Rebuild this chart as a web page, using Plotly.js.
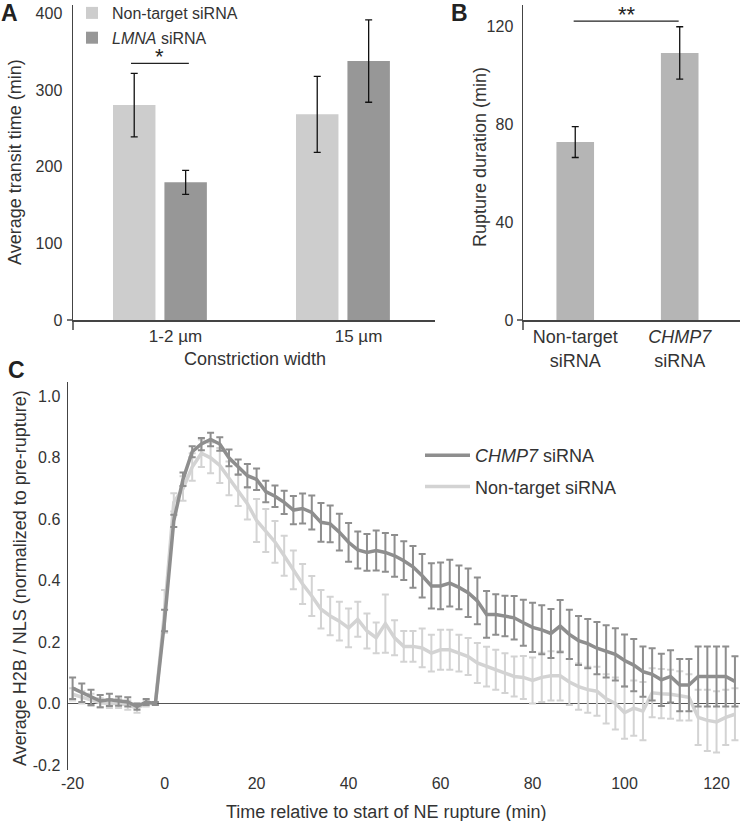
<!DOCTYPE html>
<html>
<head>
<meta charset="utf-8">
<script src="https://cdn.plot.ly/plotly-3.0.1.min.js"></script>
<style>
  html, body { margin: 0; padding: 0; background: #ffffff; }
  #chart { width: 740px; height: 821px; }
</style>
</head>
<body>
<div id="chart"></div>
<script>
// ---------- Panel A data ----------
const widthCategories = ['1-2 µm', '15 µm'];
const transitNonTarget = [280.4, 268.3];
const transitNonTargetErr = [41.5, 49.5];
const transitLMNA = [179.6, 337.8];
const transitLMNAErr = [15.7, 53.7];
const transitTicks = [0, 100, 200, 300, 400];

// ---------- Panel B data ----------
const ruptureCategories = ['Non-target<br>siRNA', '<i>CHMP7</i><br>siRNA'];
const ruptureDuration = [72.8, 109.3];
const ruptureDurationErr = [6.3, 10.7];
const ruptureTicks = [0, 40, 80, 120];

// ---------- Panel C data ----------
const timeMin = [-20, -18, -16, -14, -12, -10, -8, -6, -4, -2,
  0, 2, 4, 6, 8, 10, 12, 14, 16, 18, 20, 22, 24, 26, 28, 30, 32, 34, 36, 38,
  40, 42, 44, 46, 48, 50, 52, 54, 56, 58, 60, 62, 64, 66, 68, 70, 72, 74, 76, 78,
  80, 82, 84, 86, 88, 90, 92, 94, 96, 98, 100, 102, 104, 106, 108, 110, 112, 114, 116, 118,
  120, 122, 124];
const chmp7Mean = [0.05, 0.035, 0.02, 0.008, 0.012, 0.008, 0.005, -0.01, 0.005, 0.0,
  0.27, 0.595, 0.73, 0.82, 0.845, 0.86, 0.845, 0.80, 0.77, 0.742, 0.73, 0.69, 0.675, 0.655, 0.63, 0.635, 0.622, 0.59, 0.585, 0.558,
  0.525, 0.50, 0.492, 0.498, 0.492, 0.481, 0.465, 0.445, 0.416, 0.383, 0.383, 0.392, 0.378, 0.361, 0.334, 0.29, 0.29, 0.285, 0.279, 0.263,
  0.248, 0.24, 0.228, 0.252, 0.225, 0.205, 0.195, 0.18, 0.17, 0.16, 0.14, 0.125, 0.104, 0.095, 0.077, 0.088, 0.06, 0.06, 0.088, 0.088,
  0.088, 0.088, 0.072];
const chmp7Err = [0.035, 0.03, 0.025, 0.02, 0.02, 0.015, 0.015, 0.01, 0.01, 0.005,
  0.035, 0.02, 0.022, 0.018, 0.02, 0.022, 0.022, 0.027, 0.025, 0.038, 0.035, 0.035, 0.035, 0.038, 0.046, 0.049, 0.055, 0.063, 0.06, 0.06,
  0.063, 0.06, 0.06, 0.065, 0.063, 0.068, 0.063, 0.068, 0.071, 0.074, 0.076, 0.076, 0.071, 0.079, 0.076, 0.076, 0.066, 0.066, 0.071, 0.075,
  0.08, 0.08, 0.08, 0.085, 0.08, 0.08, 0.08, 0.085, 0.085, 0.085, 0.085, 0.085, 0.082, 0.085, 0.085, 0.085, 0.085, 0.085, 0.098, 0.098,
  0.098, 0.098, 0.082];
const nonTargetMean = [0.03, 0.02, 0.012, 0.002, 0.0, 0.0, -0.005, -0.015, 0.0, 0.0,
  0.30, 0.655, 0.70, 0.77, 0.815, 0.80, 0.775, 0.733, 0.695, 0.651, 0.596, 0.563, 0.526, 0.481, 0.435, 0.389, 0.35, 0.307, 0.285, 0.268,
  0.246, 0.274, 0.236, 0.214, 0.26, 0.214, 0.186, 0.186, 0.181, 0.164, 0.175, 0.175, 0.164, 0.153, 0.132, 0.12, 0.11, 0.099, 0.088, 0.085,
  0.075, 0.085, 0.09, 0.09, 0.07, 0.055, 0.045, 0.04, 0.015, 0.0, -0.03, -0.015, -0.025, 0.035, 0.032, 0.03, 0.025, 0.02, -0.045, -0.055,
  -0.06, -0.045, -0.035];
const nonTargetErr = [0.02, 0.02, 0.02, 0.015, 0.015, 0.015, 0.015, 0.015, 0.01, 0.005,
  0.07, 0.03, 0.04, 0.045, 0.045, 0.05, 0.057, 0.055, 0.052, 0.052, 0.07, 0.07, 0.068, 0.065, 0.063, 0.065, 0.065, 0.063, 0.063, 0.063,
  0.063, 0.057, 0.057, 0.05, 0.095, 0.057, 0.05, 0.05, 0.063, 0.06, 0.065, 0.065, 0.06, 0.06, 0.065, 0.065, 0.065, 0.065, 0.065, 0.07,
  0.075, 0.08, 0.08, 0.08, 0.075, 0.075, 0.075, 0.08, 0.08, 0.085, 0.085, 0.09, 0.095, 0.08, 0.08, 0.08, 0.08, 0.075, 0.09, 0.1,
  0.1, 0.09, 0.085];
const timeTicks = [-20, 0, 20, 40, 60, 80, 100, 120];
const ratioTicks = [-0.2, 0, 0.2, 0.4, 0.6, 0.8, 1.0];
const ratioTickText = ['-0.2', '0.0', '0.2', '0.4', '0.6', '0.8', '1.0'];

// ---------- helpers (pixel -> paper) ----------
const W = 740, H = 821;
const px = v => v / W;
const py = v => 1 - v / H;

const FONT = 'Liberation Sans, Arial, Helvetica, sans-serif';
const TXT = '#333333';
const AX = '#444444';

const catIdxA = widthCategories.map((c, i) => i);
const catIdxB = ruptureCategories.map((c, i) => i);

const barErrStyle = {type: 'data', visible: true, color: '#111111', thickness: 1.3, width: 3.5};

const traces = [
  {
    type: 'bar', name: 'Non-target siRNA', x: catIdxA, y: transitNonTarget,
    error_y: Object.assign({array: transitNonTargetErr}, barErrStyle),
    marker: {color: '#cdcdcd'}, width: 0.232, offset: -0.2565,
    xaxis: 'x', yaxis: 'y', legend: 'legend', legendgroup: 'a1', legendrank: 1, hoverinfo: 'y'
  },
  {
    type: 'bar', name: '<i>LMNA</i> siRNA', x: catIdxA, y: transitLMNA,
    error_y: Object.assign({array: transitLMNAErr}, barErrStyle),
    marker: {color: '#979797'}, width: 0.232, offset: 0.0245,
    xaxis: 'x', yaxis: 'y', legend: 'legend', legendgroup: 'a2', legendrank: 2, hoverinfo: 'y'
  },
  {
    type: 'bar', name: 'Rupture', x: catIdxB, y: ruptureDuration,
    error_y: Object.assign({array: ruptureDurationErr}, barErrStyle),
    marker: {color: '#b5b5b5'}, width: 0.36, showlegend: false,
    xaxis: 'x2', yaxis: 'y2', hoverinfo: 'y'
  },
  {
    type: 'scatter', mode: 'lines', name: 'Non-target siRNA', x: timeMin, y: nonTargetMean,
    line: {color: '#d3d3d3', width: 3.5},
    error_y: {type: 'data', array: nonTargetErr, color: '#d3d3d3', thickness: 2, width: 3.5},
    xaxis: 'x3', yaxis: 'y3', legend: 'legend2', legendgroup: 'c1', legendrank: 2
  },
  {
    type: 'scatter', mode: 'lines', name: '<i>CHMP7</i> siRNA', x: timeMin, y: chmp7Mean,
    line: {color: '#8e8e8e', width: 3.5},
    error_y: {type: 'data', array: chmp7Err, color: '#8e8e8e', thickness: 2, width: 3.5},
    xaxis: 'x3', yaxis: 'y3', legend: 'legend2', legendgroup: 'c2', legendrank: 1
  }
];

const axisBase = {
  showgrid: false, zeroline: false, ticks: '', showline: true,
  linecolor: AX, linewidth: 1.5, color: TXT, fixedrange: true
};

const layout = {
  width: W, height: H,
  margin: {l: 0, r: 0, t: 0, b: 0, autoexpand: false},
  paper_bgcolor: '#ffffff', plot_bgcolor: 'rgba(0,0,0,0)',
  font: {family: FONT, color: TXT, size: 16},
  barmode: 'overlay',
  xaxis: Object.assign({}, axisBase, {
    anchor: 'y', domain: [px(73), px(435)], range: [-0.475, 1.503],
    tickmode: 'array', tickvals: catIdxA.map(i => i + 0.085), ticktext: widthCategories,
    tickfont: {size: 17, color: TXT}, ticklabelstandoff: 0
  }),
  yaxis: Object.assign({}, axisBase, {
    anchor: 'x', domain: [py(320), py(5)], range: [0, 411],
    tickmode: 'array', tickvals: transitTicks, ticktext: transitTicks.map(String),
    tickfont: {size: 16, color: TXT}, ticklabelstandoff: 6
  }),
  xaxis2: Object.assign({}, axisBase, {
    anchor: 'y2', domain: [px(523), 1], range: [-0.5, 1.577],
    tickmode: 'array', tickvals: catIdxB, ticktext: ruptureCategories,
    tickfont: {size: 18, color: TXT}, ticklabelstandoff: 0
  }),
  yaxis2: Object.assign({}, axisBase, {
    anchor: 'x2', domain: [py(320), py(5)], range: [0, 128.9],
    tickmode: 'array', tickvals: ruptureTicks, ticktext: ruptureTicks.map(String),
    tickfont: {size: 16, color: TXT}, ticklabelstandoff: 5
  }),
  xaxis3: Object.assign({}, axisBase, {
    anchor: 'y3', domain: [px(68), 1], range: [-21, 125.1], showline: false,
    tickmode: 'array', tickvals: timeTicks, ticktext: timeTicks.map(String),
    tickfont: {size: 16, color: TXT}, ticklabelstandoff: 2
  }),
  yaxis3: Object.assign({}, axisBase, {
    anchor: 'x3', domain: [py(770), py(382)], range: [-0.2166, 1.047],
    zeroline: true, zerolinecolor: '#555555', zerolinewidth: 1.6,
    tickmode: 'array', tickvals: ratioTicks, ticktext: ratioTickText,
    tickfont: {size: 16, color: TXT}, ticklabelstandoff: 3
  }),
  legend: {
    x: px(72), xanchor: 'left', y: py(-4), yanchor: 'top',
    bgcolor: 'rgba(0,0,0,0)', font: {size: 16, color: TXT, family: FONT},
    tracegroupgap: 1, traceorder: 'grouped'
  },
  legend2: {
    x: px(420), xanchor: 'left', y: py(437), yanchor: 'top',
    bgcolor: 'rgba(0,0,0,0)', font: {size: 18, color: TXT, family: FONT},
    tracegroupgap: 5, traceorder: 'grouped', itemwidth: 45
  },
  shapes: [
    // axis overhangs
    {type: 'line', xref: 'paper', yref: 'paper', x0: px(73), x1: px(73), y0: py(320), y1: py(330), line: {color: AX, width: 1.5}},
    {type: 'line', xref: 'paper', yref: 'paper', x0: px(67), x1: px(73), y0: py(320), y1: py(320), line: {color: AX, width: 1.5}},
    {type: 'line', xref: 'paper', yref: 'paper', x0: px(523), x1: px(523), y0: py(320), y1: py(330), line: {color: AX, width: 1.5}},
    {type: 'line', xref: 'paper', yref: 'paper', x0: px(517), x1: px(523), y0: py(320), y1: py(320), line: {color: AX, width: 1.5}},
    // significance bars
    {type: 'line', xref: 'x', yref: 'y', x0: -0.158, x1: 0.158, y0: 334.8, y1: 334.8, line: {color: '#222', width: 1.2}},
    {type: 'line', xref: 'x2', yref: 'y2', x0: -0.015, x1: 0.99, y0: 122.3, y1: 122.3, line: {color: '#222', width: 1.2}}
  ],
  annotations: [
    {text: '<b>A</b>', xref: 'paper', yref: 'paper', x: px(9), y: py(12.5), showarrow: false, font: {size: 23, color: '#222'}, xanchor: 'center', yanchor: 'middle'},
    {text: '<b>B</b>', xref: 'paper', yref: 'paper', x: px(459), y: py(13), showarrow: false, font: {size: 23, color: '#222'}, xanchor: 'center', yanchor: 'middle'},
    {text: '<b>C</b>', xref: 'paper', yref: 'paper', x: px(16), y: py(370), showarrow: false, font: {size: 23, color: '#222'}, xanchor: 'center', yanchor: 'middle'},
    {text: 'Average transit time (min)', xref: 'paper', yref: 'paper', x: px(15), y: py(162), textangle: -90, showarrow: false, font: {size: 18, color: TXT}, xanchor: 'center', yanchor: 'middle'},
    {text: 'Constriction width', xref: 'paper', yref: 'paper', x: px(255), y: py(359), showarrow: false, font: {size: 18, color: TXT}, xanchor: 'center', yanchor: 'middle'},
    {text: 'Rupture duration (min)', xref: 'paper', yref: 'paper', x: px(480), y: py(157), textangle: -90, showarrow: false, font: {size: 18, color: TXT}, xanchor: 'center', yanchor: 'middle'},
    {text: 'Average H2B / NLS (normalized to pre-rupture)', xref: 'paper', yref: 'paper', x: px(20), y: py(578), textangle: -90, showarrow: false, font: {size: 18, color: TXT}, xanchor: 'center', yanchor: 'middle'},
    {text: 'Time relative to start of NE rupture (min)', xref: 'paper', yref: 'paper', x: px(386), y: py(812), showarrow: false, font: {size: 18, color: TXT}, xanchor: 'center', yanchor: 'middle'},
    {text: '*', xref: 'x', yref: 'y', x: 0, y: 334.8, yshift: 7, showarrow: false, font: {size: 22, color: '#222'}, xanchor: 'center', yanchor: 'middle'},
    {text: '**', xref: 'x2', yref: 'y2', x: 0.5, y: 122.3, yshift: 7, showarrow: false, font: {size: 22, color: '#222'}, xanchor: 'center', yanchor: 'middle'}
  ]
};

Plotly.newPlot('chart', traces, layout, {displayModeBar: false, staticPlot: true});
</script>
</body>
</html>
